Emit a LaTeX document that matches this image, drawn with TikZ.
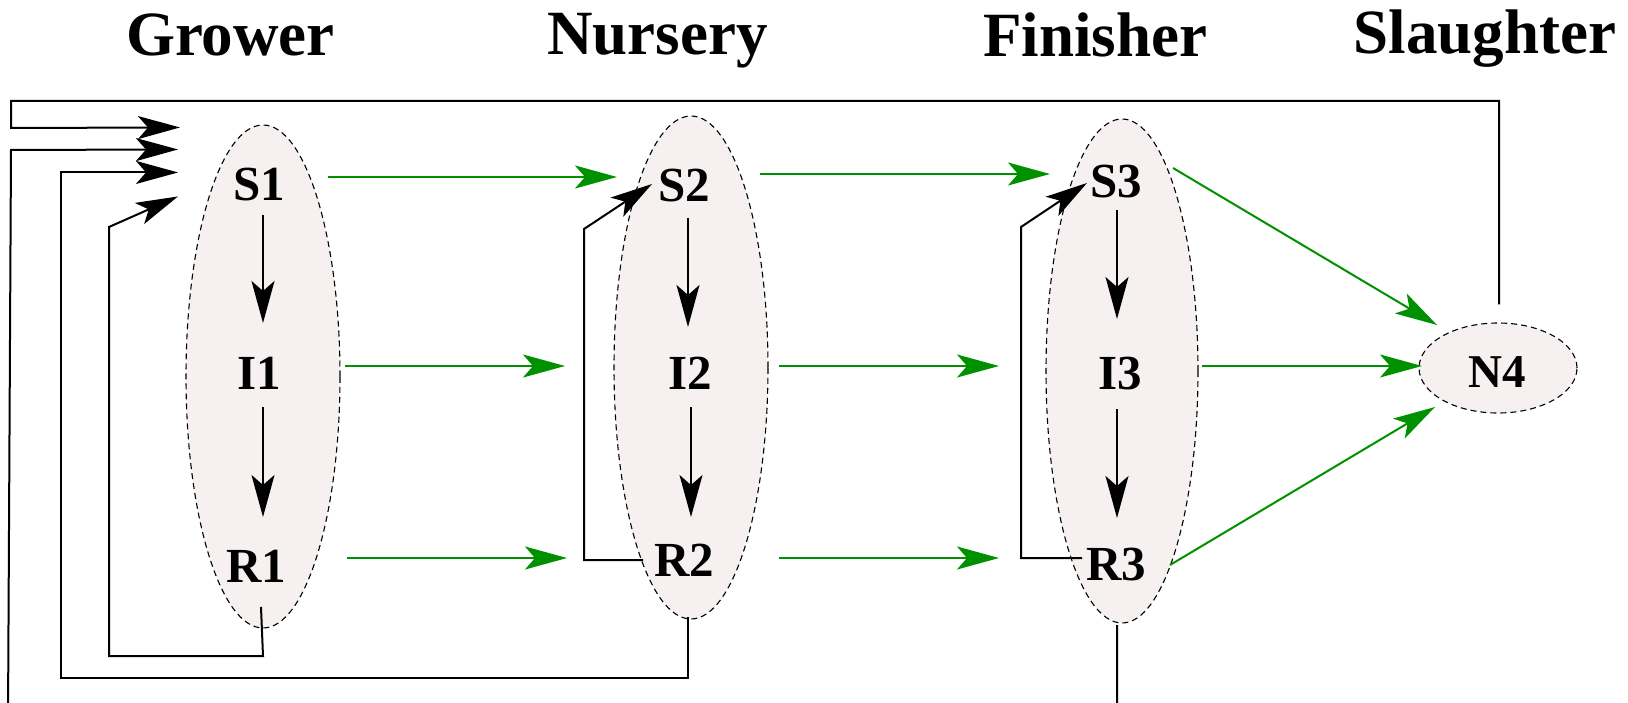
\documentclass[tikz,border=0pt]{standalone}
\usepackage{fontspec}
\setmainfont{Liberation Serif}
\usetikzlibrary{arrows.meta,shapes.geometric,calc}
\definecolor{flowgreen}{RGB}{0,145,0}
\definecolor{stagefill}{RGB}{246,240,240}
\begin{document}
\begin{tikzpicture}[x=1pt,y=-1pt,
  stage/.style={ellipse, draw, dash pattern=on 6pt off 4pt, line width=1.1pt,
                fill=stagefill, inner sep=0pt},
  title/.style={font=\fontsize{63}{70}\selectfont\bfseries, anchor=base, inner sep=0pt},
  state/.style={font=\fontsize{49}{55}\selectfont\bfseries, anchor=base, inner sep=0pt},
  tipped/.style={-{Stealth[length=42pt,width=23pt,inset=10pt]}},
  move/.style={tipped, line width=2pt},
  flow/.style={tipped, draw=flowgreen, line width=2pt},
  back/.style={line width=2pt}
]
\useasboundingbox (0,0) rectangle (1628,703);
\clip (0,0) rectangle (1628,703);

% production stages
\node[stage, minimum width=154pt, minimum height=503pt] (E1) at (263,376.5) {};
\node[stage, minimum width=154pt, minimum height=503pt] (E2) at (691,367.5) {};
\node[stage, minimum width=152pt, minimum height=504pt] (E3) at (1122,371) {};
\node[stage, minimum width=158pt, minimum height=90pt] (N4e) at (1498,368) {};

% stage titles
\node[title] (tGrower)    at (230.5,56) {Grower};
\node[title] (tNursery)   at (657.5,55) {Nursery};
\node[title] (tFinisher)  at (1095,57)  {Finisher};
\node[title] (tSlaughter) at (1485,54)  {Slaughter};

% compartments
\node[state] (S1) at (259,201) {S1};
\node[state] (I1) at (259,389) {I1};
\node[state] (R1) at (256,582) {R1};
\node[state] (S2) at (684,202) {S2};
\node[state] (I2) at (690,389) {I2};
\node[state] (R2) at (684,576) {R2};
\node[state] (S3) at (1116,198) {S3};
\node[state] (I3) at (1120,389) {I3};
\node[state] (R3) at (1116,580) {R3};
\node[state, font=\fontsize{47}{52}\selectfont\bfseries] (N4) at (1497,387) {N4};

% inflow points on the grower stage
\coordinate (in1) at ($(E1.north)+(-83,3)$);
\coordinate (in2) at ($(E1.north)+(-85,25)$);
\coordinate (in3) at ($(E1.north)+(-85,48)$);
\coordinate (in4) at ($(E1.north)+(-85,72)$);

% infection progression within each stage
\draw[move] ($(S1.base)+(4,14)$) -- ($(I1.base)+(4,-66)$);
\draw[move] ($(I1.base)+(4,18)$) -- ($(R1.base)+(7,-65)$);
\draw[move] ($(S2.base)+(4,16)$) -- ($(I2.base)+(-2,-62)$);
\draw[move] ($(I2.base)+(1,18)$) -- ($(R2.base)+(7,-59)$);
\draw[move] ($(S3.base)+(1,12)$) -- ($(I3.base)+(-3,-70)$);
\draw[move] ($(I3.base)+(-3,20)$) -- ($(R3.base)+(1,-62)$);

% movement between stages
\draw[flow] ($(S1.base)+(69,-24)$) -- ($(S2.base)+(-67,-25)$);
\draw[flow] ($(I1.base)+(86,-23)$) -- ($(I2.base)+(-125,-23)$);
\draw[flow] ($(R1.base)+(91,-24)$) -- ($(R2.base)+(-117,-18)$);
\draw[flow] ($(S2.base)+(76,-28)$) -- ($(S3.base)+(-66,-24)$);
\draw[flow] ($(I2.base)+(89,-23)$) -- ($(I3.base)+(-121,-23)$);
\draw[flow] ($(R2.base)+(95,-18)$) -- ($(R3.base)+(-117,-22)$);
\draw[flow] ($(S3.base)+(57,-30)$) -- ($(N4.base)+(-60,-62)$);
\draw[flow] ($(I3.base)+(82,-23)$) -- ($(N4.base)+(-75,-21)$);
\draw[flow] ($(R3.base)+(54,-15)$) -- ($(N4.base)+(-62,20)$);

% waning immunity within nursery and finisher
\draw[back, tipped] ($(R2.base)+(-41,-16)$) -| ($(S2.base)+(-100,27)$) -- ($(S2.base)+(-32,-18)$);
\draw[back, tipped] ($(R3.base)+(-34,-22)$) -| ($(S3.base)+(-95,29)$) -- ($(S3.base)+(-29,-15)$);

% replacement flows back to the grower stage
\draw[back, tipped] ($(N4e.north)+(1,-18)$) |- (11,101) -- (11,128) -- (in1);
\draw[back, tipped] ($(R3.base)+(1,45)$) -- ++(0,95) -- (8,720) -- (11,150) -- (in2);
\draw[back, tipped] ($(R2.base)+(4,41)$) |- (61,678) |- (in3);
\draw[back, tipped] ($(R1.base)+(5,25)$) -- ++(2,49) -| (109,227) -- (in4);
\end{tikzpicture}
\end{document}
